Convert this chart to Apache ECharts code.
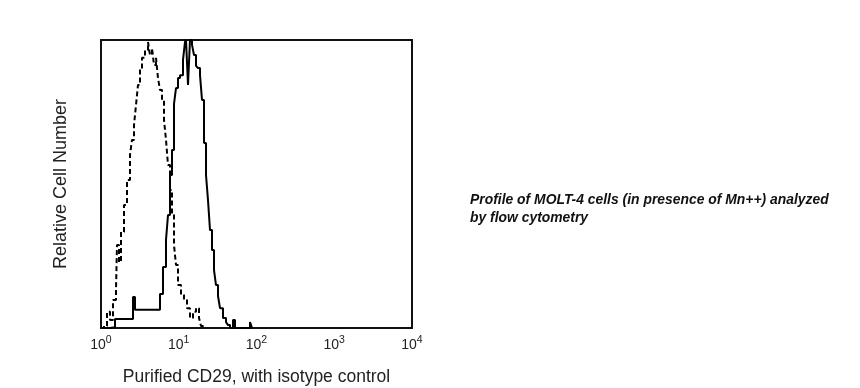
<!DOCTYPE html>
<html>
<head>
<meta charset="utf-8">
<script src="https://cdn.jsdelivr.net/npm/echarts@6/dist/echarts.min.js"></script>
<style>html,body{margin:0;padding:0;background:#fff;}#c{width:860px;height:388px;}</style>
</head>
<body>
<div id="c"></div>
<script>
// Fluorescence intensity (log scale) and relative counts (% of axis height)
const specificX = [1.0, 1.306, 1.514, 1.976, 2.579, 2.737, 3.681, 5.253, 5.739, 6.272, 6.855, 7.273, 7.718, 8.189, 8.689, 9.218, 9.781, 10.38, 11.34, 12.03, 12.40, 13.15, 13.95, 14.81, 15.71, 16.67, 17.68, 18.77, 19.91, 21.13, 22.42, 23.78, 25.23, 26.77, 28.41, 30.14, 31.98, 33.93, 37.08, 40.52, 42.99, 45.62, 49.85, 52.90, 82.49, 87.52, 90.0];
const specificY = [0, 0.3, 3.1, 3.1, 10.8, 6.3, 6.3, 6.3, 11.8, 21.2, 30.6, 39.2, 53.1, 61.8, 77.8, 83.3, 86.8, 87.8, 93.1, 99.3, 100, 84.4, 100, 98.3, 94.8, 91.0, 90.3, 87.8, 79.2, 64.2, 53.1, 44.4, 34.0, 27.1, 20.1, 14.9, 11.1, 6.9, 3.5, 2.1, 1.0, 0, 2.8, 0, 2.1, 0, 0];
const isotypeX = [1.0, 1.093, 1.194, 1.306, 1.427, 1.559, 1.606, 1.704, 1.808, 1.976, 2.160, 2.360, 2.504, 2.657, 2.819, 2.991, 3.174, 3.368, 3.681, 4.023, 4.268, 4.529, 4.805, 5.099, 5.410, 5.739, 6.090, 6.462, 6.855, 7.273, 7.718, 8.189, 8.689, 9.218, 9.781, 10.69, 11.68, 12.77, 13.95, 15.25, 16.67, 18.22, 19.33, 20.51];
const isotypeY = [0, 0.7, 5.6, 2.8, 9.7, 13.2, 28.8, 22.9, 33.3, 42.7, 51.4, 60.1, 65.3, 70.5, 77.4, 84.4, 89.6, 93.8, 96.5, 99.3, 94.8, 97.2, 91.3, 93.8, 86.8, 82.6, 79.2, 72.2, 65.3, 56.6, 47.9, 39.2, 28.8, 21.9, 14.9, 11.5, 9.7, 6.9, 3.5, 5.6, 6.9, 3.5, 0.7, 0];
const tickExponents = [0, 1, 2, 3, 4];
const xTitle = 'Purified CD29, with isotype control';
const yTitle = 'Relative Cell Number';
const captionLines = ['Profile of MOLT-4 cells (in presence of Mn++) analyzed', 'by flow cytometry'];

const pairs = (xs, ys) => xs.map((x, i) => [x, ys[i]]);
const FONT = 'Liberation Sans, Arial';
const chart = echarts.init(document.getElementById('c'), null, {renderer: 'canvas'});
chart.setOption({
  backgroundColor: '#ffffff',
  animation: false,
  grid: {left: 101, top: 40, width: 311, height: 288, outerBoundsMode: 'none', containLabel: false,
         show: true, borderColor: '#111', borderWidth: 2, backgroundColor: 'transparent'},
  xAxis: {
    type: 'log', logBase: 10, min: 1, max: 10000,
    axisLine: {show: false}, axisTick: {show: false}, splitLine: {show: false},
    axisLabel: {
      margin: 7,
      formatter: function (v) {
        const e = tickExponents.find(k => Math.abs(Math.pow(10, k) - v) < 1e-6 * v);
        return '{b|10}{s|' + (e === undefined ? Math.round(Math.log10(v)) : e) + '}';
      },
      rich: {
        b: {fontSize: 14, fontFamily: FONT, color: '#222'},
        s: {fontSize: 10.5, fontFamily: FONT, color: '#222', verticalAlign: 'bottom', padding: [0, 0, 9, 0]}
      }
    },
    name: xTitle, nameLocation: 'middle', nameGap: 40,
    nameTextStyle: {fontSize: 17.5, fontFamily: FONT, color: '#222'}
  },
  yAxis: {
    type: 'value', min: 0, max: 100,
    axisLine: {show: false}, axisTick: {show: false}, splitLine: {show: false}, axisLabel: {show: false},
    name: yTitle, nameLocation: 'middle', nameGap: 31,
    nameTextStyle: {fontSize: 18, fontFamily: FONT, color: '#222'}
  },
  series: [
    {type: 'line', step: 'end', symbol: 'none', clip: true, data: pairs(isotypeX, isotypeY),
     lineStyle: {color: '#000', width: 2, type: [5, 3]}},
    {type: 'line', step: 'end', symbol: 'none', clip: true, data: pairs(specificX, specificY),
     lineStyle: {color: '#000', width: 2}}
  ],
  graphic: captionLines.map((t, i) => ({
    type: 'text', left: 470, top: 193 + i * 18,
    style: {text: t, fontSize: 13.9, fontWeight: 'bold', fontStyle: 'italic', fontFamily: FONT, fill: '#111'}
  }))
});
</script>
</body>
</html>
